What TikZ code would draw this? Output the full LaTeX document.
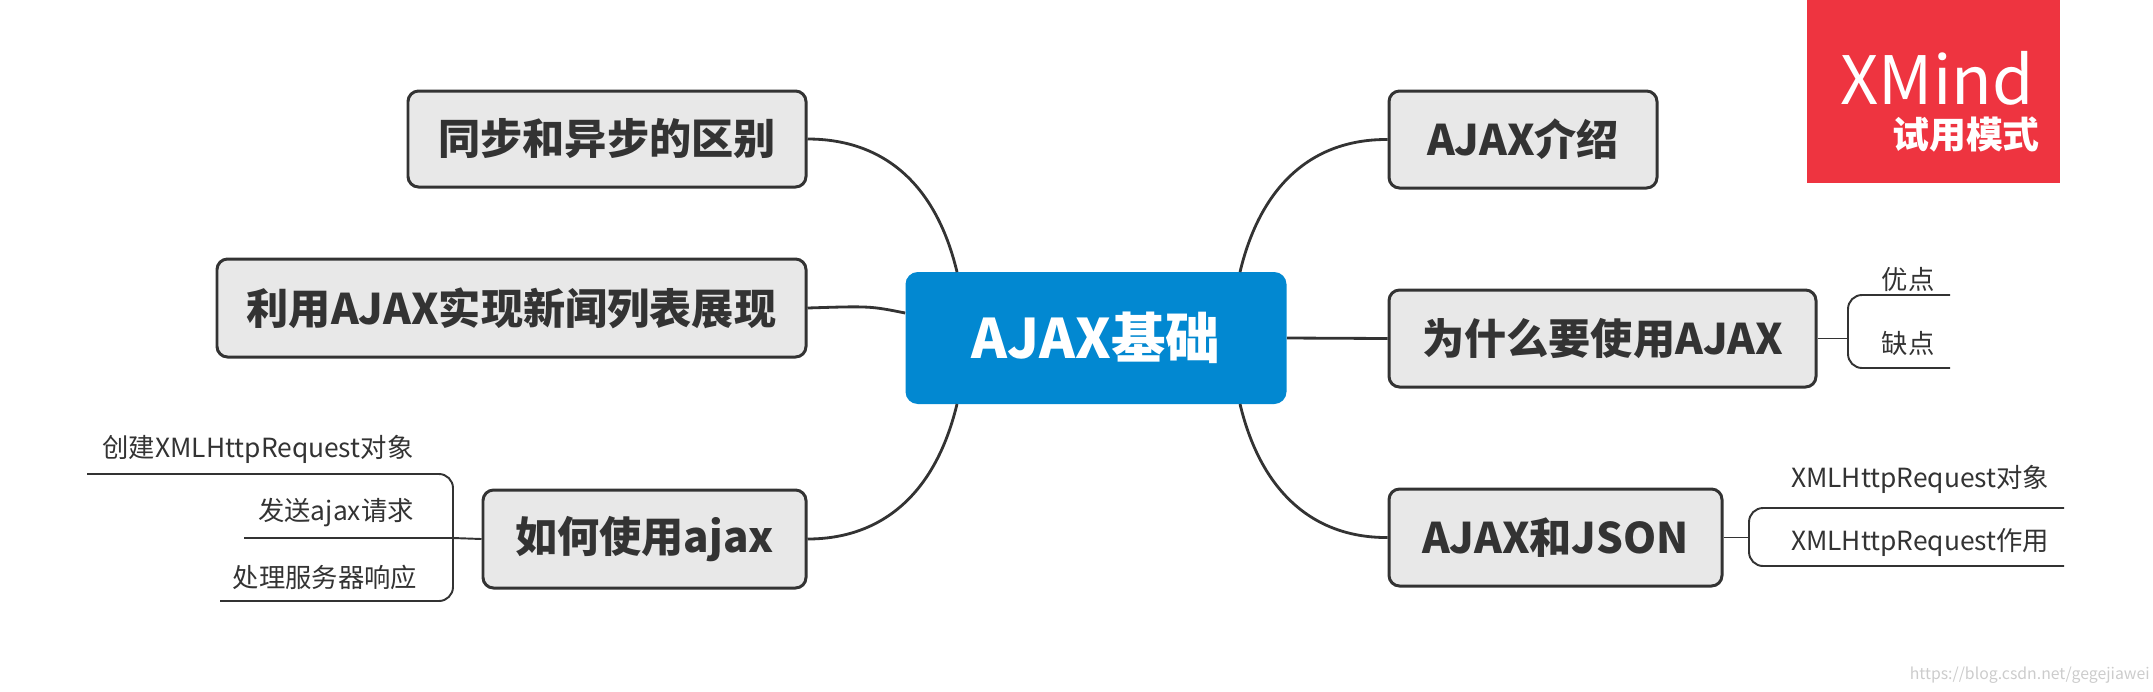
\documentclass[tikz,border=0pt]{standalone}
\usepackage{fontspec}
\setmainfont{Noto Sans CJK SC}
\definecolor{boxfill}{RGB}{232,232,232}
\definecolor{edge}{RGB}{51,51,51}
\definecolor{ctr}{RGB}{2,136,209}
\definecolor{xm}{RGB}{238,52,64}
\begin{document}
\begin{tikzpicture}[x=0.02cm,y=-0.02cm,
  topic/.style={draw=edge,line width=1.7pt,fill=boxfill,rounded corners=6pt,font=\bfseries\fontsize{24}{28}\selectfont,text=edge,inner sep=0pt},
  sub/.style={font=\fontsize{15}{18}\selectfont,text=edge,inner sep=0pt},
  conn/.style={draw=edge,line width=1.6pt},
  thin/.style={draw=edge,line width=1.1pt}]
\useasboundingbox (0,0) rectangle (2153,691);
\node[fill=ctr,rounded corners=7pt,minimum width=381*0.02cm,minimum height=132*0.02cm,text=white,font=\bfseries\fontsize{31}{36}\selectfont] (c) at (1096,338) {AJAX基础};
\node[topic,minimum width=398*0.02cm,minimum height=96*0.02cm] (a) at (607,139) {同步和异步的区别};
\node[topic,minimum width=589*0.02cm,minimum height=98*0.02cm] (b) at (511.5,308) {利用AJAX实现新闻列表展现};
\node[topic,minimum width=323*0.02cm,minimum height=98*0.02cm] (d) at (644.5,539) {如何使用ajax};
\node[topic,minimum width=268*0.02cm,minimum height=97*0.02cm] (e) at (1523,139.5) {AJAX介绍};
\node[topic,minimum width=427*0.02cm,minimum height=97*0.02cm] (f) at (1602.5,338.5) {为什么要使用AJAX};
\node[topic,minimum width=333*0.02cm,minimum height=97*0.02cm] (g) at (1555.5,537.5) {AJAX和JSON};
% connectors
\draw[conn] (957,272) .. controls (935,180) and (880,139) .. (a.east);
\draw[conn] (c.west |- 0,313) .. controls (870,306) .. (b.east);
\draw[conn] (957,404) .. controls (935,496) and (880,539) .. (d.east);
\draw[conn] (1240,272) .. controls (1262,180) and (1317,139) .. (e.west);
\draw[conn] (c.east |- 0,338) -- (f.west);
\draw[conn] (1240,404) .. controls (1262,496) and (1317,538) .. (g.west);
% subtopics right of f
\node[sub] (f1) at (1908,279) {优点};
\node[sub] (f2) at (1908,343) {缺点};
\coordinate (fb) at (1848,338.5);
\draw[thin] (f.east) -- (fb);
\draw[thin,rounded corners=8pt] (1950,295) -- (1848,295) -- (1848,368) -- (1950,368);
% subtopics right of g
\node[sub] (g1) at (1920,479) {XMLHttpRequest对象};
\node[sub] (g2) at (1920,542) {XMLHttpRequest作用};
\coordinate (gb) at (1749,537.5);
\draw[thin] (g.east) -- (gb);
\draw[thin,rounded corners=8pt] (2064,508) -- (1749,508) -- (1749,566) -- (2064,566);
% subtopics left of d
\node[sub] (d1) at (258,449) {创建XMLHttpRequest对象};
\node[sub] (d2) at (336,513) {发送ajax请求};
\node[sub] (d3) at (325,577) {处理服务器响应};
\coordinate (db) at (453,538);
\draw[thin] (d.west) -- (db);
\draw[thin,rounded corners=8pt] (87,474) -- (453,474) -- (453,601) -- (220,601);
\draw[thin] (244,538) -- (db);
% XMind badge
\node[fill=xm,minimum width=253*0.02cm,minimum height=183*0.02cm,inner sep=0pt] (x) at (1933.5,91.5) {};
\node[text=white,font=\fontsize{38}{42}\selectfont,inner sep=0pt] (x1) at (1937,78) {XMind};
\node[text=white,font=\bfseries\fontsize{21}{24}\selectfont,inner sep=0pt] (x2) at (1966,135) {试用模式};
\node[text=gray!40,font=\fontsize{9}{10}\selectfont,inner sep=0pt,anchor=east] (w) at (2150,675) {https://blog.csdn.net/gegejiawei};
\end{tikzpicture}
\end{document}
